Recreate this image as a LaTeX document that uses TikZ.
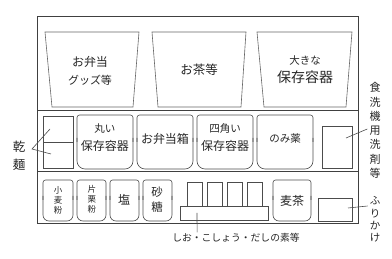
\documentclass[tikz,border=0pt]{standalone}
\usepackage{fontspec}
\setmainfont{Noto Sans CJK JP}
\usetikzlibrary{calc}
\tikzset{
  shelf/.style={draw=black!75, line width=0.8pt},
  bin/.style={draw=black!70, line width=0.6pt},
  lbl/.style={inner sep=0pt, align=center, text=black!85, font=\fontsize{12}{18}\selectfont},
  vlbl/.style={inner sep=0pt, align=center, text=black!85, font=\fontsize{11}{14.3}\selectfont},
}
\begin{document}
\begin{tikzpicture}[x=1pt, y=-1pt]
\useasboundingbox (0,0) rectangle (392,259);
% Regal
\draw[shelf] (37,16) rectangle (358,223);
\draw[shelf] (37,110) -- (358,110);
\draw[shelf] (37,171) -- (358,171);

% oben: Koerbe
\foreach \a/\b/\c/\d in {45/139/52/133, 152/246/158/241, 257/352/264/346}
  \draw[bin, draw=black!60] (\a,32) -- (\b,32) -- (\d,107) -- (\c,107) -- cycle;
\node[lbl] (bentoGoods) at (90,71) {お弁当\\{\fontsize{11}{11}\selectfont グッズ等}};
\node[lbl, font=\fontsize{12.5}{18}\selectfont] (ocha) at (199,70) {お茶等};
\node[lbl] (ookiYoki) at (305,70) {{\fontsize{10.5}{10.5}\selectfont 大きな}\\{\fontsize{14}{14}\selectfont 保存容器}};

% Mitte
\draw[bin] (43,116) rectangle (73,168);
\draw[bin] (43,142) -- (73,142);
\foreach \a/\b in {77/133, 137/193, 197/253, 257/313} {
  \draw[bin, rounded corners=2.5pt] (\a,142) -- (\a,115) -- (\b,115) -- (\b,142);
  \draw[bin, rounded corners=8pt] (\a,138) -- (\a,169) -- (\b,169) -- (\b,138);
}
\node[lbl] (maruYoki) at (105,138) {{\fontsize{10.5}{10.5}\selectfont 丸い}\\保存容器};
\node[lbl] (bentobako) at (165,139) {お弁当箱};
\node[lbl] (shikakuYoki) at (225,138) {{\fontsize{10.5}{10.5}\selectfont 四角い}\\保存容器};
\node[lbl, font=\fontsize{10.5}{12}\selectfont] (nomigusuri) at (285,139) {のみ薬};
\draw[bin] (322,126) rectangle (352,168);

% unten
\foreach \a/\b in {43/73, 77/106, 110/139, 143/172, 273/311} {
  \draw[bin, rounded corners=2.5pt] (\a,200) -- (\a,180) -- (\b,180) -- (\b,200);
  \draw[bin, rounded corners=6pt] (\a,196) -- (\a,221) -- (\b,221) -- (\b,196);
}
\node[lbl, font=\fontsize{8.5}{10}\selectfont] (komugiko) at (58,200) {小\\麦\\粉};
\node[lbl, font=\fontsize{8.5}{10}\selectfont] (katakuriko) at (92,199) {片\\栗\\粉};
\node[lbl] (shio) at (124,200) {塩};
\node[lbl, font=\fontsize{11.5}{15}\selectfont] (sato) at (157,200) {砂\\糖};
\node[lbl] (mugicha) at (292,201) {麦茶};
\foreach \x in {187,207,227,247}
  \draw[bin] (\x,206) -- (\x,182) -- (\x+15,182) -- (\x+15,206);
\draw[bin] (180,206) rectangle (268,220);
\draw[bin] (318,198) rectangle (352,221);

% Beschriftung aussen
\node[lbl, font=\fontsize{12.5}{18}\selectfont] (kanmen) at (19,156) {乾\\麺};
\coordinate (kanTip) at (32,149);
\coordinate (menUp) at (50,129);
\coordinate (menDown) at (51,154);
\draw[bin] (menUp) -- (kanTip) -- (menDown);

\node[vlbl] (senzai) at (375,130.5) {食\\洗\\機\\用\\洗\\剤\\等};
\coordinate (senzaiTip) at (346,138);
\draw[bin] (senzaiTip) -- ($(senzai.west)+(-2,-1.5)$);

\node[vlbl, font=\fontsize{10.5}{12.3}\selectfont] (furikake) at (375,219.5) {ふ\\り\\か\\け};
\coordinate (furiTip) at (348,208);
\draw[bin] (furiTip) -- ($(furikake.west)+(-2,-13.5)$);

\node[lbl, font=\fontsize{9.8}{12}\selectfont] (dashi) at (236,238) {しお・こしょう・だしの素等};
\coordinate (dashiTip) at (197,213);
\draw[bin] (dashiTip) -- ($(dashi.north west)+(25,-1)$);
\end{tikzpicture}
\end{document}
